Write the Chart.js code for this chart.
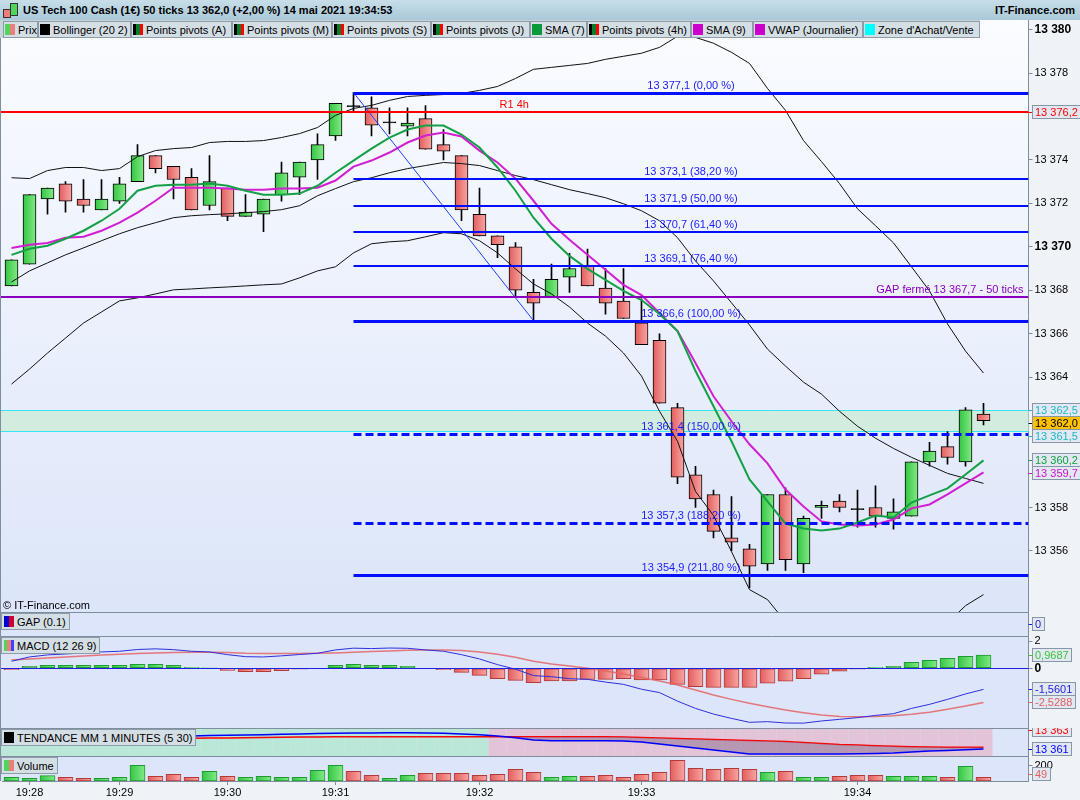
<!DOCTYPE html>
<html lang="fr">
<head>
<meta charset="UTF-8">
<title>US Tech 100 Cash - 50 ticks</title>
<script src="https://cdn.jsdelivr.net/npm/chart.js"></script>
<style>
  body { margin:0; width:1080px; height:800px; overflow:hidden; position:relative; background:#eff3f8;
         font-family:"Liberation Sans", Arial, sans-serif; font-size:11px; color:#000; }
  canvas { position:absolute; left:0; }
  #header { position:absolute; left:0; top:0; width:1080px; height:20px; background:linear-gradient(#c7dee9,#a9c8d7); }
  #header .title { position:absolute; left:23px; top:4px; font-weight:bold; }
  #header .site { position:absolute; right:5px; top:4px; font-weight:bold; }
  .logo-r { position:absolute; left:3px; top:9px; width:6px; height:7px; background:#ee7e7b; border:1px solid #333; }
  .logo-g { position:absolute; left:10px; top:3px; width:6px; height:11px; background:#4fd55c; border:1px solid #333; }
  #legend { position:absolute; left:0; top:20px; width:980px; height:18px; background:#c6d4dc; display:flex; padding:1px 0 0 3px; box-sizing:border-box; z-index:2; }
  .item { height:17px; border:1px solid #8d9ca8; background:#d4dee5; box-sizing:border-box; display:flex; align-items:center; padding-left:1px; white-space:nowrap; overflow:hidden; }
  .ico { width:10px; height:11px; margin-right:3px; flex:none; }
  .pp { background:linear-gradient(90deg,#000 33%,#0a7d2a 33% 66%,#ff0000 66%); }
  .plabel { position:absolute; left:1px; height:17px; border:1px solid #8d9ca8; background:#d4dee5; box-sizing:border-box; display:flex; align-items:center; padding:0 3px 0 2px; white-space:nowrap; z-index:2; }
  #copy { position:absolute; left:3px; top:599px; z-index:2; }
</style>
</head>
<body>

<div id="header">
  <div class="logo-r"></div><div class="logo-g"></div>
  <div class="title">US Tech 100 Cash (1€) 50 ticks 13 362,0 (+2,00 %) 14 mai 2021 19:34:53</div>
  <div class="site">IT-Finance.com</div>
</div>

<canvas id="cMain" width="1080" height="592" style="top:20px"></canvas>
<canvas id="cGap" width="1080" height="24" style="top:612px"></canvas>
<canvas id="cMacd" width="1080" height="92" style="top:636px"></canvas>
<canvas id="cTrend" width="1080" height="28" style="top:728px"></canvas>
<canvas id="cVol" width="1080" height="44" style="top:756px"></canvas>

<div id="legend">
  <div class="item" style="width:35px"><div class="ico" style="background:linear-gradient(90deg,#4fd55c 50%,#ee7e7b 50%)"></div>Prix</div>
  <div class="item" style="width:93px"><div class="ico" style="background:#000"></div>Bollinger (20 2)</div>
  <div class="item" style="width:101px"><div class="ico pp"></div>Points pivots (A)</div>
  <div class="item" style="width:100px"><div class="ico pp"></div>Points pivots (M)</div>
  <div class="item" style="width:99px"><div class="ico pp"></div>Points pivots (S)</div>
  <div class="item" style="width:99px"><div class="ico pp"></div>Points pivots (J)</div>
  <div class="item" style="width:57px"><div class="ico" style="background:#0a9a3a"></div>SMA (7)</div>
  <div class="item" style="width:104px"><div class="ico pp"></div>Points pivots (4h)</div>
  <div class="item" style="width:62px"><div class="ico" style="background:#cc00cc"></div>SMA (9)</div>
  <div class="item" style="width:110px"><div class="ico" style="background:#cc00cc"></div>VWAP (Journalier)</div>
  <div class="item" style="width:117px"><div class="ico" style="background:#00ffff"></div>Zone d'Achat/Vente</div>
</div>

<div id="copy">© IT-Finance.com</div>
<div class="plabel" style="top:613px"><div class="ico" style="background:linear-gradient(90deg,#0000cc 50%,#cc0033 50%)"></div>GAP (0.1)</div>
<div class="plabel" style="top:637px"><div class="ico" style="background:linear-gradient(90deg,#4fd55c 33%,#ee7e7b 33% 66%,#4040ff 66%)"></div>MACD (12 26 9)</div>
<div class="plabel" style="top:729px"><div class="ico" style="background:#000"></div>TENDANCE MM 1 MINUTES (5 30)</div>
<div class="plabel" style="top:757px"><div class="ico" style="background:linear-gradient(90deg,#4fd55c 50%,#ee7e7b 50%)"></div>Volume</div>

<script>
// barres de 50 ticks, 55 bougies + 2 emplacements vides a droite
const slots = Array.from({ length: 57 }, (_, i) => i);

const opens = [13368.2, 13369.2, 13372.2, 13372.9, 13372.2, 13371.7, 13372.1, 13373.0, 13374.2, 13373.7,
  13373.2, 13371.9, 13372.7, 13371.4, 13371.5, 13372.4, 13373.2, 13374.0, 13375.1, 13376.5,
  13376.4, 13375.7, 13375.55, 13375.9, 13374.7, 13374.2, 13371.5, 13370.5, 13370.0, 13367.9,
  13367.7, 13368.6, 13369.1, 13368.1, 13367.5, 13366.5, 13365.7, 13362.6, 13359.5, 13358.6,
  13356.6, 13356.1, 13355.4, 13358.6, 13355.4, 13358.0, 13358.3, 13357.95, 13358.0, 13357.5,
  13357.6, 13360.1, 13360.8, 13360.1, 13362.3];
const highs = [13369.4, 13372.4, 13372.7, 13373.0, 13373.1, 13373.1, 13373.2, 13374.7, 13374.2, 13373.7,
  13373.6, 13374.2, 13372.7, 13372.4, 13372.2, 13373.9, 13373.9, 13375.2, 13376.6, 13377.1,
  13376.9, 13376.4, 13376.4, 13376.5, 13375.4, 13374.2, 13372.7, 13370.5, 13370.2, 13368.5,
  13369.2, 13369.7, 13369.9, 13369.0, 13369.0, 13367.6, 13366.0, 13362.8, 13359.9, 13358.8,
  13358.5, 13356.3, 13358.6, 13358.9, 13357.6, 13358.3, 13358.6, 13358.8, 13359.0, 13358.4,
  13360.1, 13361.0, 13361.5, 13362.6, 13362.8];
const lows = [13368.2, 13369.2, 13371.5, 13371.6, 13371.6, 13371.7, 13372.0, 13373.0, 13373.4, 13372.2,
  13371.7, 13371.7, 13371.2, 13371.4, 13370.7, 13372.1, 13372.4, 13373.1, 13374.9, 13376.2,
  13375.1, 13375.2, 13375.1, 13374.5, 13374.0, 13371.2, 13370.5, 13369.5, 13367.7, 13366.6,
  13367.7, 13367.9, 13368.2, 13366.9, 13366.7, 13365.5, 13362.8, 13359.1, 13358.0, 13356.6,
  13356.0, 13354.3, 13355.1, 13355.1, 13355.0, 13357.5, 13357.8, 13357.1, 13357.1, 13357.0,
  13357.6, 13359.9, 13360.0, 13359.9, 13361.8];
const closes = [13369.4, 13372.4, 13372.7, 13372.1, 13371.9, 13372.2, 13372.9, 13374.2, 13373.6, 13373.1,
  13371.7, 13373.0, 13371.4, 13371.6, 13372.2, 13373.4, 13373.9, 13374.7, 13376.6, 13376.45,
  13375.6, 13375.75, 13375.7, 13374.5, 13374.4, 13371.7, 13370.5, 13370.1, 13368.0, 13367.4,
  13368.5, 13369.0, 13368.2, 13367.4, 13366.7, 13365.5, 13362.8, 13359.4, 13358.4, 13356.9,
  13356.4, 13355.3, 13358.6, 13355.6, 13357.5, 13358.1, 13358.0, 13357.9, 13357.6, 13357.8,
  13360.1, 13360.6, 13360.3, 13362.5, 13362.0];

// Bollinger (20 2)
const bollUpper = [13373.18, 13373.14, 13373.51, 13373.65, 13373.65, 13373.51, 13373.6, 13374.15, 13374.43, 13374.52,
  13374.57, 13374.8, 13374.85, 13374.85, 13374.89, 13375.03, 13375.21, 13375.49, 13376.05, 13376.37,
  13376.51, 13376.74, 13376.92, 13376.97, 13377.01, 13377.06, 13377.2, 13377.38, 13377.75, 13378.17,
  13378.26, 13378.35, 13378.44, 13378.63, 13378.77, 13378.91, 13379.18, 13379.69, 13379.64, 13379.37,
  13378.95, 13378.44, 13377.29, 13376.28, 13374.89, 13373.92, 13372.91, 13371.75, 13370.97, 13370.18,
  13369.08, 13367.97, 13366.45, 13365.2, 13364.19];
const bollMid = [13368.38, 13368.89, 13369.26, 13369.63, 13369.95, 13370.28, 13370.6, 13370.88, 13371.11, 13371.34,
  13371.43, 13371.48, 13371.52, 13371.57, 13371.62, 13371.71, 13371.89, 13372.35, 13372.68, 13373.0,
  13373.18, 13373.41, 13373.6, 13373.74, 13373.88, 13373.83, 13373.74, 13373.51, 13373.28, 13373.09,
  13372.86, 13372.63, 13372.45, 13372.26, 13371.98, 13371.66, 13371.2, 13370.42, 13369.35, 13368.43,
  13367.42, 13366.4, 13365.29, 13364.51, 13363.77, 13363.22, 13362.43, 13361.74, 13361.19, 13360.72,
  13360.31, 13359.94, 13359.57, 13359.34, 13359.11];
const bollLower = [13363.68, 13364.37, 13365.11, 13365.8, 13366.49, 13367.0, 13367.51, 13367.65, 13367.83, 13368.02,
  13368.06, 13368.11, 13368.15, 13368.2, 13368.25, 13368.29, 13368.57, 13368.89, 13369.08, 13369.72,
  13370.14, 13370.23, 13370.28, 13370.46, 13370.65, 13370.6, 13370.28, 13369.72, 13368.98, 13368.29,
  13367.83, 13367.23, 13366.49, 13365.89, 13365.11, 13364.05, 13362.43, 13361.05, 13358.74, 13357.63,
  13355.97, 13354.22, 13353.76, 13352.74, 13352.65, 13352.52, 13351.95, 13351.73, 13351.41, 13351.26,
  13351.54, 13351.91, 13352.69, 13353.48, 13353.99];

const sma7 = [13369.63, 13369.91, 13370.05, 13370.37, 13370.74, 13371.2, 13371.75, 13372.58, 13372.81, 13372.86,
  13372.86, 13372.91, 13372.81, 13372.58, 13372.4, 13372.4, 13372.45, 13372.81, 13373.41, 13373.97,
  13374.52, 13375.03, 13375.4, 13375.58, 13375.58, 13375.17, 13374.57, 13373.65, 13372.58, 13371.34,
  13370.37, 13369.58, 13368.98, 13368.48, 13367.97, 13367.55, 13366.91, 13366.12, 13364.28, 13362.66,
  13361.05, 13359.29, 13358.28, 13357.26, 13357.03, 13356.94, 13357.03, 13357.31, 13357.63, 13357.54,
  13358.23, 13358.56, 13358.88, 13359.52, 13360.17];
const sma9 = [13369.95, 13370.09, 13370.18, 13370.42, 13370.46, 13370.74, 13371.11, 13371.57, 13372.12, 13372.72,
  13372.72, 13372.72, 13372.68, 13372.63, 13372.63, 13372.68, 13372.68, 13372.72, 13373.05, 13373.69,
  13373.97, 13374.34, 13374.8, 13375.12, 13375.26, 13375.08, 13374.43, 13373.88, 13373.14, 13372.12,
  13371.06, 13370.32, 13369.63, 13368.94, 13368.25, 13367.78, 13366.95, 13366.12, 13364.65, 13363.12,
  13361.97, 13360.91, 13360.03, 13358.83, 13358.05, 13357.36, 13357.22, 13357.17, 13357.22, 13357.45,
  13357.96, 13358.14, 13358.6, 13359.11, 13359.62];

// niveaux horizontaux
const r1Level = 13376.2;
const gapLevel = 13367.7;
const zoneHigh = 13362.5, zoneLow = 13361.5;
const fibStartBar = 19, fibEndBar = 29;
const fibLevels = [13377.1, 13373.1, 13371.9, 13370.7, 13369.1, 13366.6, 13361.4, 13357.3, 13354.9];
const fibPct = ['0,00', '38,20', '50,00', '61,40', '76,40', '100,00', '150,00', '188,20', '211,80'];
const fibWidth = [3, 2, 2, 2, 2, 3, 3, 3, 3];
const fibDashed = [false, false, false, false, false, false, true, true, false];

const mainTicks = [13356, 13358, 13364, 13366, 13368, 13370, 13372, 13374, 13378, 13380];
const mainTagValues = [13376.2, 13362.5, 13362.0, 13361.5, 13360.2, 13359.7];

// MACD (12 26 9)
const macdLine = [0.52, 0.84, 0.99, 1.06, 1.13, 1.21, 1.26, 1.39, 1.44, 1.38,
  1.26, 1.21, 1.01, 0.86, 0.84, 0.92, 1.02, 1.11, 1.36, 1.49,
  1.46, 1.5, 1.48, 1.36, 1.26, 1.01, 0.69, 0.27, -0.07, -0.54,
  -0.62, -0.77, -0.82, -1.02, -1.19, -1.55, -1.8, -2.43, -2.97, -3.39,
  -3.71, -4.0, -3.95, -4.05, -4.06, -3.9, -3.78, -3.65, -3.49, -3.36,
  -2.97, -2.67, -2.3, -1.9, -1.56];
const macdSignal = [0.62, 0.69, 0.77, 0.84, 0.91, 0.99, 1.04, 1.09, 1.14, 1.16,
  1.19, 1.19, 1.16, 1.11, 1.09, 1.09, 1.09, 1.11, 1.14, 1.19,
  1.24, 1.28, 1.33, 1.36, 1.36, 1.31, 1.21, 1.04, 0.82, 0.52,
  0.32, 0.17, 0.0, -0.2, -0.42, -0.69, -0.94, -1.24, -1.61, -1.98,
  -2.3, -2.59, -2.84, -3.09, -3.29, -3.46, -3.56, -3.58, -3.56, -3.51,
  -3.41, -3.26, -3.04, -2.79, -2.53];
const macdHist = [-0.1, 0.15, 0.22, 0.22, 0.22, 0.22, 0.22, 0.3, 0.3, 0.22,
  0.07, 0.02, -0.15, -0.25, -0.25, -0.17, -0.07, 0.0, 0.22, 0.3,
  0.22, 0.22, 0.15, 0.0, -0.1, -0.3, -0.52, -0.77, -0.89, -1.06,
  -0.94, -0.94, -0.82, -0.82, -0.77, -0.86, -0.86, -1.19, -1.36, -1.41,
  -1.41, -1.41, -1.11, -0.96, -0.77, -0.44, -0.22, -0.07, 0.07, 0.15,
  0.44, 0.59, 0.74, 0.89, 0.97];
const macdTagValues = [0.9687, -1.5601, -2.5288];

// TENDANCE MM 1 MINUTES (5 30)
const trendFast = [13370.5, 13371.0, 13371.6, 13372.1, 13372.6, 13373.0, 13373.3, 13373.6, 13373.8, 13373.9,
  13374.0, 13374.4, 13374.7, 13375.0, 13375.3, 13375.7, 13376.0, 13376.4, 13376.7, 13376.9,
  13377.0, 13377.2, 13377.3, 13377.0, 13376.7, 13376.0, 13375.3, 13374.0, 13372.3, 13370.0,
  13369.3, 13369.3, 13369.3, 13369.2, 13369.0, 13368.0, 13366.0, 13364.0, 13362.0, 13360.0,
  13358.0, 13356.0, 13356.0, 13356.0, 13356.0, 13356.0, 13356.0, 13356.2, 13356.5, 13357.0,
  13358.0, 13359.0, 13359.5, 13360.3, 13361.0];
const trendSlow = [13371.0, 13371.1, 13371.2, 13371.3, 13371.4, 13371.5, 13371.5, 13371.6, 13371.6, 13371.7,
  13371.7, 13371.9, 13372.1, 13372.3, 13372.5, 13372.7, 13373.0, 13373.1, 13373.2, 13373.3,
  13373.3, 13373.3, 13373.3, 13373.3, 13373.3, 13373.3, 13373.3, 13373.3, 13373.3, 13373.3,
  13373.3, 13373.3, 13373.3, 13373.3, 13373.0, 13372.5, 13372.0, 13371.5, 13371.0, 13370.5,
  13370.0, 13369.5, 13369.0, 13368.5, 13367.5, 13366.5, 13365.5, 13365.0, 13364.3, 13363.8,
  13363.3, 13363.0, 13362.8, 13362.7, 13362.7];
const trendState = [1, 1, 1, 1, 1, 1, 1, 1, 1, 1, 1, 1, 1, 1, 1, 1, 1, 1, 1, 1, 1, 1, 1, 1, 1, 1, 1,
  -1, -1, -1, -1, -1, -1, -1, -1, -1, -1, -1, -1, -1, -1, -1, -1, -1, -1, -1, -1, -1, -1, -1, -1, -1, -1, -1, -1];
const trendTagValues = [13363, 13361];

const volumes = [49, 36, 71, 49, 36, 36, 49, 209, 62, 89,
  49, 129, 62, 49, 62, 49, 49, 142, 209, 129,
  76, 36, 76, 102, 102, 102, 76, 89, 156, 116,
  49, 62, 62, 76, 49, 89, 116, 276, 169, 156,
  169, 156, 116, 129, 49, 49, 62, 76, 76, 62,
  62, 62, 49, 196, 49];

const timeTickBars = [1, 6, 12, 18, 26, 35, 47];
const timeTickLabels = ['19:28', '19:29', '19:30', '19:31', '19:32', '19:33', '19:34'];

// ---------------------------------------------------------------
const FONT = '"Liberation Sans", Arial, sans-serif';
const AXIS = '#7f8e9c';
const GREEN = ['#36c745', '#80e884'], RED = ['#e2605e', '#f7a3a1'];
const GREEN_B = '#1f9a32', RED_B = '#b43a3a';
Chart.defaults.font.family = FONT;
Chart.defaults.font.size = 11;
Chart.defaults.color = '#000';

function fr(v, d) {
  const p = v.toFixed(d).split('.');
  return p[0].replace(/\B(?=(\d{3})+(?!\d))/g, ' ') + (p[1] ? ',' + p[1] : '');
}

const isUp = closes.map((c, i) => c >= opens[i]);

// degrade horizontal des barres (plus clair a droite)
function barFill(c, up, half) {
  const pair = up ? GREEN : RED;
  const xs = c.chart.scales && c.chart.scales.x;
  if (c.dataIndex === undefined || !xs) return pair[0];
  const cx = xs.getPixelForValue(c.dataIndex);
  if (!Number.isFinite(cx)) return pair[0];
  const g = c.chart.ctx.createLinearGradient(cx - half, 0, cx + half, 0);
  g.addColorStop(0, pair[0]);
  g.addColorStop(1, pair[1]);
  return g;
}

// fond des panneaux
function panelBg(gradient, topLine) {
  return {
    id: 'panelBg',
    beforeDraw(chart) {
      const { ctx, chartArea: a, width, height } = chart;
      ctx.save();
      ctx.fillStyle = '#eff3f8';
      ctx.fillRect(0, 0, width, height);
      let fill = '#dce5f9';
      if (gradient) {
        fill = ctx.createLinearGradient(0, a.top, 0, a.bottom);
        fill.addColorStop(0, gradient[0]);
        fill.addColorStop(1, gradient[1]);
      }
      ctx.fillStyle = fill;
      ctx.fillRect(0, a.top, a.right, a.bottom - a.top);
      ctx.restore();
    },
    afterDraw(chart) {
      const { ctx, chartArea: a } = chart;
      ctx.save();
      ctx.strokeStyle = AXIS;
      ctx.lineWidth = 1;
      ctx.beginPath();
      ctx.moveTo(0.5, a.top); ctx.lineTo(0.5, a.bottom);
      if (topLine) { ctx.moveTo(0, 0.5); ctx.lineTo(a.right, 0.5); }
      ctx.stroke();
      ctx.restore();
    }
  };
}

// etiquettes de valeur sur l'axe de droite
function tags(items) {
  return {
    id: 'tags',
    afterDraw(chart) {
      const { ctx, chartArea: a, scales: { y } } = chart;
      ctx.save();
      ctx.font = '11px ' + FONT;
      ctx.textBaseline = 'middle';
      let prev = -1e9;
      items.forEach(t => {
        let py = Math.round(y.getPixelForValue(t.value)) + (t.shift || 0);
        if (py - prev < 13) py = prev + 13;
        prev = py;
        const x0 = Math.round(a.right) + 3;
        const w = Math.ceil(ctx.measureText(t.text).width) + 5;
        ctx.fillStyle = t.bg || '#e1e8f1';
        ctx.fillRect(x0, py - 6, w, 13);
        ctx.strokeStyle = '#8797a8';
        ctx.lineWidth = 1;
        ctx.strokeRect(x0 + 0.5, py - 6.5, w, 13);
        ctx.strokeStyle = t.color;
        ctx.beginPath(); ctx.moveTo(a.right, py + 0.5); ctx.lineTo(x0, py + 0.5); ctx.stroke();
        ctx.fillStyle = t.color;
        ctx.fillText(t.text, x0 + 3, py + 1);
      });
      ctx.restore();
    }
  };
}

// zone d'achat/vente, pivots, fibonacci
const levels = {
  id: 'levels',
  beforeDatasetsDraw(chart) {
    const { ctx, chartArea: a, scales: { y } } = chart;
    const yh = Math.round(y.getPixelForValue(zoneHigh)), yl = Math.round(y.getPixelForValue(zoneLow));
    ctx.save();
    ctx.fillStyle = '#d3ece0';
    ctx.fillRect(0, yh, a.right, yl - yh);
    ctx.strokeStyle = '#38e4ee';
    ctx.lineWidth = 1;
    ctx.beginPath();
    ctx.moveTo(0, yh + 0.5); ctx.lineTo(a.right, yh + 0.5);
    ctx.moveTo(0, yl + 0.5); ctx.lineTo(a.right, yl + 0.5);
    ctx.stroke();
    ctx.restore();
  },
  afterDatasetsDraw(chart) {
    const { ctx, chartArea: a, scales: { x, y } } = chart;
    const hline = (x1, x2, v, w, color, dash) => {
      const py = Math.round(y.getPixelForValue(v)) + (w % 2 ? 0.5 : 0);
      ctx.strokeStyle = color;
      ctx.lineWidth = w;
      ctx.setLineDash(dash || []);
      ctx.beginPath(); ctx.moveTo(x1, py); ctx.lineTo(x2, py); ctx.stroke();
      ctx.setLineDash([]);
      return Math.round(y.getPixelForValue(v));
    };
    ctx.save();
    ctx.beginPath(); ctx.rect(0, a.top, a.right, a.bottom - a.top); ctx.clip();
    ctx.font = '11px ' + FONT;
    ctx.textBaseline = 'alphabetic';

    let py = hline(0, a.right, r1Level, 2, '#ff0000');
    ctx.fillStyle = '#ff0000'; ctx.textAlign = 'center';
    ctx.fillText('R1 4h', a.right / 2, py - 4);

    py = hline(0, a.right, gapLevel, 2, '#8a00bf');
    ctx.fillStyle = '#8a00bf'; ctx.textAlign = 'right';
    ctx.fillText('GAP fermé ' + fr(gapLevel, 1) + ' - 50 ticks', a.right - 5, py - 4);

    const xs = x.getPixelForValue(fibStartBar);
    ctx.textAlign = 'center';
    fibLevels.forEach((lv, k) => {
      const p = hline(xs, a.right, lv, fibWidth[k], '#0010ff', fibDashed[k] ? [8, 4] : null);
      ctx.fillStyle = '#1a1aff';
      ctx.fillText(fr(lv, 1) + ' (' + fibPct[k] + ' %)', (xs + a.right) / 2, p - 4);
    });
    ctx.restore();
  }
};

const trendBg = {
  id: 'trendBg',
  beforeDatasetsDraw(chart) {
    const { ctx, chartArea: a, scales: { x } } = chart;
    ctx.save();
    trendState.forEach((s, i) => {
      const cx = x.getPixelForValue(i);
      const x1 = i === 0 ? 0 : cx - 9;
      ctx.fillStyle = s > 0 ? '#b9e7d8' : '#e2c3d8';
      ctx.fillRect(x1, a.top, cx + 9 - x1, a.bottom - a.top);
    });
    ctx.restore();
  }
};

const zeroLine = {
  id: 'zeroLine',
  afterDatasetsDraw(chart) {
    const { ctx, chartArea: a, scales: { y } } = chart;
    const py = Math.round(y.getPixelForValue(0)) + 0.5;
    ctx.save();
    ctx.strokeStyle = '#2020e0';
    ctx.lineWidth = 1;
    ctx.beginPath(); ctx.moveTo(0, py); ctx.lineTo(a.right, py); ctx.stroke();
    ctx.restore();
  }
};

function panelOptions(yMin, yMax, yTicks, label, boldTicks) {
  const y = {
    position: 'right', min: yMin, max: yMax,
    afterFit: s => { s.width = 51.5; s.paddingTop = 0; s.paddingBottom = 0; },
    border: { color: AXIS },
    grid: { drawOnChartArea: false, tickLength: 4, color: AXIS, drawTicks: !!yTicks },
    ticks: {
      display: !!yTicks, padding: 2, color: '#000',
      callback: label,
      font: c => (c.tick && boldTicks && boldTicks.includes(c.tick.value)) ? { size: 12, weight: 'bold' } : { size: 11 }
    }
  };
  if (yTicks) y.afterBuildTicks = s => { s.ticks = yTicks.map(v => ({ value: v })); };
  return {
    responsive: false,
    animation: false,
    events: [],
    layout: { padding: { left: 2.5, right: 0, top: 0, bottom: 0 } },
    plugins: { legend: { display: false }, tooltip: { enabled: false } },
    scales: {
      x: { type: 'category', labels: slots, offset: true, display: false },
      y
    }
  };
}

const line = (data, color, width, order) => ({
  type: 'line', data, borderColor: color, borderWidth: width, pointRadius: 0, tension: 0, order
});

// ---- prix
const mainTagColors = ['#ff0000', '#1fb5c6', '#000000', '#1fb5c6', '#12a040', '#d010d0'];
new Chart(document.getElementById('cMain'), {
  type: 'bar',
  data: {
    labels: slots,
    datasets: [
      line(bollUpper, '#111', 1, 3),
      line(bollMid, '#111', 1, 3),
      line(bollLower, '#111', 1, 3),
      Object.assign(line(slots.map(i => i === fibStartBar ? fibLevels[0] : i === fibEndBar ? fibLevels[5] : null), '#2040ff', 1, 2), { spanGaps: true }),
      line(sma9, '#d21fd2', 2, 2),
      line(sma7, '#14a046', 2, 1),
      {
        data: lows.map((l, i) => [l, highs[i]]),
        backgroundColor: '#000', barThickness: 1, grouped: false, order: 6
      },
      {
        data: opens.map((o, i) => [o, closes[i]]),
        backgroundColor: c => (c.dataIndex !== undefined && Math.abs(closes[c.dataIndex] - opens[c.dataIndex]) < 0.08)
          ? '#000' : barFill(c, isUp[c.dataIndex], 6),
        borderColor: '#000', borderWidth: 1, borderSkipped: false,
        barThickness: 13, minBarLength: 1, grouped: false, order: 5
      }
    ]
  },
  options: panelOptions(13353.19, 13380.44, mainTicks, v => fr(v, 0), [13370, 13380]),
  plugins: [
    panelBg(['#fafcff', '#dce5f9'], false), levels,
    tags(mainTagValues.map((v, i) => ({ value: v, text: fr(v, 1), color: mainTagColors[i], bg: i === 2 ? '#ffc000' : null })))
  ]
});

// ---- GAP
new Chart(document.getElementById('cGap'), {
  type: 'line',
  data: { labels: slots, datasets: [] },
  options: panelOptions(-1, 1, null, null, null),
  plugins: [panelBg(null, true), tags([{ value: 0, text: '0', color: '#1a1ad0' }])]
});

// ---- MACD
const macdTagColors = ['#3cc43c', '#2222dd', '#e06060'];
new Chart(document.getElementById('cMacd'), {
  type: 'bar',
  data: {
    labels: slots,
    datasets: [
      line(macdLine, '#2f2fdc', 1, 1),
      line(macdSignal, 'rgba(228,100,100,0.85)', 1.5, 2),
      {
        data: macdHist,
        backgroundColor: c => barFill(c, macdHist[c.dataIndex] >= 0, 7),
        borderColor: macdHist.map(v => v >= 0 ? GREEN_B : RED_B),
        borderWidth: 1, borderSkipped: false, barThickness: 15, order: 3
      }
    ]
  },
  options: panelOptions(-4.42, 2.39, [2, 0], v => String(v), [0]),
  plugins: [panelBg(null, true), zeroLine,
    tags(macdTagValues.map((v, i) => ({ value: v, text: fr(v, 4), color: macdTagColors[i] })))]
});

// ---- tendance
new Chart(document.getElementById('cTrend'), {
  type: 'line',
  data: {
    labels: slots,
    datasets: [
      line(trendSlow, '#ff0000', 1.5, 2),
      Object.assign(line(trendFast, '#0000ff', 1.5, 1), {
        fill: { target: 0, above: 'rgba(0,0,0,0)', below: 'rgba(140,110,140,0.5)' }
      })
    ]
  },
  options: panelOptions(13354, 13382, null, null, null),
  plugins: [panelBg(null, true), trendBg, tags([
    { value: trendTagValues[0], text: fr(trendTagValues[0], 0), color: '#ff0000', shift: -17 },
    { value: trendTagValues[1], text: fr(trendTagValues[1], 0), color: '#0000ff' }
  ])]
});

// ---- volume + axe du temps
const volOpts = panelOptions(0, 333, [200], v => String(v), null);
volOpts.scales.x = {
  type: 'category', labels: slots, offset: true, position: 'bottom',
  afterBuildTicks: s => { s.ticks = timeTickBars.map(v => ({ value: v })); },
  afterFit: s => { s.height = 19; s.paddingLeft = 0; s.paddingRight = 0; },
  border: { color: AXIS },
  grid: { drawOnChartArea: false, tickLength: 4, color: AXIS, offset: false },
  ticks: { autoSkip: false, maxRotation: 0, padding: 1, color: '#000',
           callback: v => timeTickLabels[timeTickBars.indexOf(v)] }
};
const lastVol = volumes[volumes.length - 1];
new Chart(document.getElementById('cVol'), {
  type: 'bar',
  data: {
    labels: slots,
    datasets: [{
      data: volumes,
      backgroundColor: c => barFill(c, isUp[c.dataIndex], 7),
      borderColor: isUp.map(u => u ? GREEN_B : RED_B),
      borderWidth: 1, borderSkipped: false, barThickness: 15
    }]
  },
  options: volOpts,
  plugins: [panelBg(null, true), tags([{ value: lastVol, text: String(lastVol), color: '#e06060', shift: -3 }])]
});
</script>
</body>
</html>
